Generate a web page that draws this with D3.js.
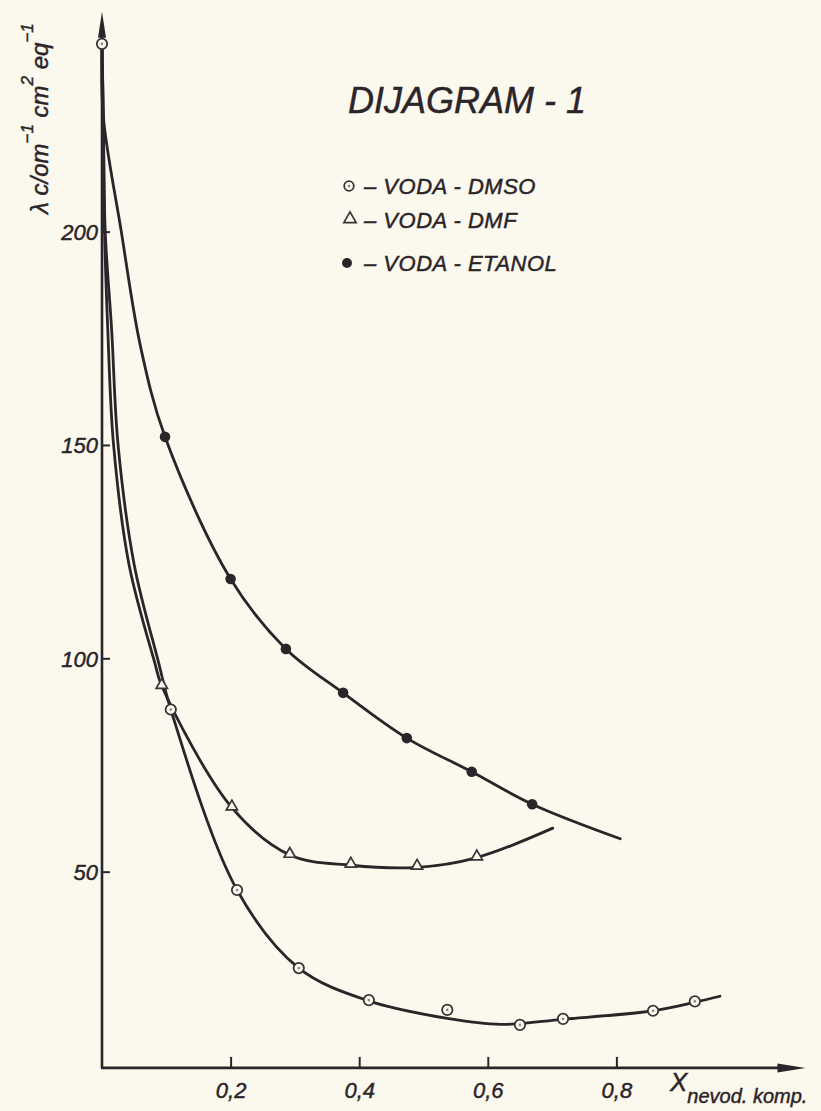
<!DOCTYPE html>
<html>
<head>
<meta charset="utf-8">
<script src="https://cdn.jsdelivr.net/npm/d3@7/dist/d3.min.js"></script>
<style>
  html, body { margin: 0; padding: 0; background: #fbf8ee; }
  svg { display: block; }
  text { font-family: "Liberation Sans", Arial, sans-serif; font-style: italic; fill: #2b2428; stroke: #2b2428; stroke-width: 0.45px; }
</style>
</head>
<body>
<script>
// ---------- data ----------
const xTicks = [0.2, 0.4, 0.6, 0.8];
const xTickLabels = ["0,2", "0,4", "0,6", "0,8"];
const yTicks = [50, 100, 150, 200];
const yTickLabels = ["50", "100", "150", "200"];

// measured points [x, λ]
const dmsoPoints = [[0, 244], [0.107, 88], [0.21, 45.7], [0.306, 27.4], [0.415, 19.9], [0.537, 17.6], [0.65, 14.1], [0.717, 15.5], [0.857, 17.4], [0.922, 19.6]];
const dmfPoints = [[0.093, 93.5], [0.202, 65], [0.292, 53.9], [0.387, 51.6], [0.49, 51.1], [0.583, 53.3]];
const etanolPoints = [[0.098, 151.9], [0.2, 118.6], [0.286, 102.2], [0.375, 91.9], [0.474, 81.3], [0.575, 73.4], [0.669, 65.8]];

// hand-drawn fitted curves [x, λ]
const dmsoCurve = [[0, 244], [0.002, 227], [0.005, 200], [0.015, 177], [0.025, 150], [0.05, 122], [0.088, 99], [0.107, 88], [0.21, 45.7], [0.306, 27.4], [0.415, 19.7], [0.537, 15.6], [0.62, 14.2], [0.717, 15.4], [0.857, 17.4], [0.922, 19.4], [0.961, 20.8]];
const dmfCurve = [[0, 244], [0.002, 227], [0.004, 200], [0.009, 177], [0.018, 150], [0.042, 122], [0.082, 99], [0.093, 93.5], [0.202, 65], [0.292, 53.9], [0.387, 51.5], [0.49, 51.0], [0.583, 53.3], [0.701, 60.2]];
const etanolCurve = [[0, 244], [0.002, 227], [0.03, 200], [0.06, 173], [0.098, 151.9], [0.2, 118.6], [0.286, 102.2], [0.375, 91.9], [0.474, 81.3], [0.575, 73.4], [0.669, 65.8], [0.806, 57.7]];

const legendLabels = ["– VODA - DMSO", "– VODA - DMF", "– VODA - ETANOL"];
const legendKinds = ["open", "triangle", "filled"];
const titleText = "DIJAGRAM - 1";

// ---------- drawing ----------
const W = 821, H = 1111;
const ink = "#2b2428";
const paper = "#fbf8ee";

const svg = d3.select("body").append("svg").attr("width", W).attr("height", H);
svg.append("rect").attr("width", W).attr("height", H).attr("fill", paper);

const x = d3.scaleLinear().domain([0, 1]).range([102, 745]);
const y = d3.scaleLinear().domain([0, 250]).range([1085, 1085 - 250 * 4.267]);
const yBase = 4;      // value where the x axis sits
const yTop = 251.5;   // y axis arrow tip
const xEnd = 1.094;   // x axis arrow tip

// axes lines with arrows
const axisG = svg.append("g");
axisG.append("line")
  .attr("x1", x(0)).attr("y1", y(yBase)).attr("x2", x(0)).attr("y2", y(yTop) + 20)
  .attr("stroke", ink).attr("stroke-width", 2.6);
axisG.append("line")
  .attr("x1", x(0) - 1).attr("y1", y(yBase)).attr("x2", x(xEnd) - 20).attr("y2", y(yBase))
  .attr("stroke", ink).attr("stroke-width", 2.8);
axisG.append("path")
  .attr("d", `M${x(0)},${y(yTop)} L${x(0) + 4},${y(yTop) + 26} L${x(0) - 4},${y(yTop) + 26} Z`)
  .attr("fill", ink);
axisG.append("path")
  .attr("d", `M${x(xEnd)},${y(yBase)} L${x(xEnd) - 28},${y(yBase) - 4.5} L${x(xEnd) - 28},${y(yBase) + 4.5} Z`)
  .attr("fill", ink);

// y ticks (pointing inward)
const yAxis = d3.axisLeft(y).tickValues(yTicks).tickSize(-8).tickPadding(4)
  .tickFormat((d, i) => yTickLabels[i]);
const yG = svg.append("g").attr("transform", `translate(${x(0)},0)`).call(yAxis);
yG.select(".domain").remove();
yG.selectAll(".tick line").attr("stroke", ink).attr("stroke-width", 2);
yG.selectAll(".tick text").attr("font-size", 22).attr("fill", ink)
  .style("font-family", "'Liberation Sans', Arial, sans-serif").style("font-style", "italic")
  .attr("dy", "0.36em");

// x ticks (pointing inward)
const xAxis = d3.axisBottom(x).tickValues(xTicks).tickSize(-11).tickPadding(14)
  .tickFormat((d, i) => xTickLabels[i]);
const xG = svg.append("g").attr("transform", `translate(0,${y(yBase)})`).call(xAxis);
xG.select(".domain").remove();
xG.selectAll(".tick line").attr("stroke", ink).attr("stroke-width", 2);
xG.selectAll(".tick text").attr("font-size", 22).attr("fill", ink)
  .style("font-family", "'Liberation Sans', Arial, sans-serif").style("font-style", "italic");

// x axis title
const xt = svg.append("text").attr("x", 670).attr("y", 1091).attr("font-size", 26);
xt.append("tspan").text("X");
xt.append("tspan").attr("dy", 12).attr("font-size", 20).text("nevod. komp.");

// y axis title (rotated)
const yt = svg.append("text").attr("transform", `translate(48,214) rotate(-90)`).attr("font-size", 24);
yt.append("tspan").text("λ c/om");
yt.append("tspan").attr("dy", -15).attr("font-size", 17).text("−1");
yt.append("tspan").attr("dy", 15).text(" cm");
yt.append("tspan").attr("dy", -15).attr("font-size", 17).text("2");
yt.append("tspan").attr("dy", 15).text(" eq");
yt.append("tspan").attr("dy", -15).attr("font-size", 17).text("−1");

// title
svg.append("text").attr("x", 348).attr("y", 113).attr("font-size", 36)
  .text(titleText);

// curves
const line = d3.line().x(d => x(d[0])).y(d => y(d[1])).curve(d3.curveCatmullRom.alpha(0.5));
[dmsoCurve, dmfCurve, etanolCurve].forEach(c => {
  svg.append("path").datum(c).attr("d", line)
    .attr("fill", "none").attr("stroke", ink).attr("stroke-width", 2.8)
    .attr("stroke-linecap", "round").attr("stroke-linejoin", "round");
});

// markers
function openCircle(g, cx, cy, r) {
  g.append("circle").attr("cx", cx).attr("cy", cy).attr("r", r)
    .attr("fill", paper).attr("stroke", "#3a3236").attr("stroke-width", 1.8);
  g.append("circle").attr("cx", cx).attr("cy", cy).attr("r", 1.3).attr("fill", "#8a8285");
}
function triangle(g, cx, cy, size) {
  g.append("path").attr("d", d3.symbol(d3.symbolTriangle, size)())
    .attr("transform", `translate(${cx},${cy})`)
    .attr("fill", paper).attr("stroke", "#3a3236").attr("stroke-width", 1.7);
}
function dot(g, cx, cy, r) {
  g.append("circle").attr("cx", cx).attr("cy", cy).attr("r", r).attr("fill", ink);
}
const mk = svg.append("g");
dmsoPoints.forEach(d => openCircle(mk, x(d[0]), y(d[1]), 5.2));
dmfPoints.forEach(d => triangle(mk, x(d[0]), y(d[1]) - 1, 55));
etanolPoints.forEach(d => dot(mk, x(d[0]), y(d[1]), 5.3));

// legend
const legY = [186, 220, 263];
const lg = svg.append("g");
legendLabels.forEach((lab, i) => {
  const cy = legY[i];
  if (legendKinds[i] === "open") openCircle(lg, 349, cy, 4.8);
  else if (legendKinds[i] === "triangle") triangle(lg, 350, cy - 1, 65);
  else dot(lg, 347, cy, 5);
  lg.append("text").attr("x", 364).attr("y", cy + 8).attr("font-size", 22).attr("letter-spacing", 0.5).text(lab);
});
</script>
</body>
</html>
